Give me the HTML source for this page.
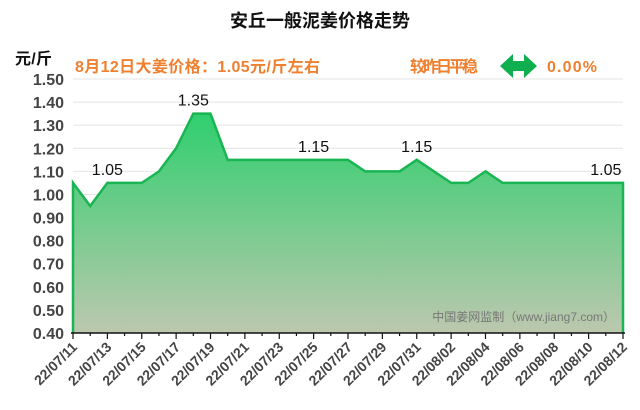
<!DOCTYPE html>
<html><head><meta charset="utf-8"><style>
body{margin:0;background:#fff;width:640px;height:410px;overflow:hidden}
svg{display:block;font-family:"Liberation Sans","Noto Sans CJK SC",sans-serif}
</style></head><body>
<svg id="chart" width="640" height="410">
<defs><linearGradient id="g" x1="0" y1="0" x2="0" y2="1">
<stop offset="0" stop-color="#2fcf6e"/><stop offset="1" stop-color="#bcc8ae"/></linearGradient></defs>
<text x="320" y="27" text-anchor="middle" font-size="18" font-weight="bold" fill="#111">安丘一般泥姜价格走势</text>
<text x="15" y="64" font-size="16" font-weight="bold" fill="#111" textLength="37">元/斤</text>
<text x="75" y="72" font-size="16" font-weight="bold" fill="#ee8030" textLength="245">8月12日大姜价格：1.05元/斤左右</text>
<text x="410" y="72" font-size="16" font-weight="bold" fill="#ee8030" textLength="68">较昨日平稳</text>
<g><polygon points="500,66 513,54 513,61 524,61 524,54 537,66 524,78 524,71 513,71 513,78" fill="#0fae4e"/></g>
<text x="547" y="72" font-size="16" font-weight="bold" fill="#ee8030" textLength="50">0.00%</text>
<g id="grid"></g><g id="plot"></g><g id="axes"></g>
<text x="615" y="321" text-anchor="end" font-size="12" fill="#777">中国姜网监制（www.jiang7.com）</text>
</svg>
<script>
const dates=["22/07/11","22/07/12","22/07/13","22/07/14","22/07/15","22/07/16","22/07/17","22/07/18","22/07/19","22/07/20","22/07/21","22/07/22","22/07/23","22/07/24","22/07/25","22/07/26","22/07/27","22/07/28","22/07/29","22/07/30","22/07/31","22/08/01","22/08/02","22/08/03","22/08/04","22/08/05","22/08/06","22/08/07","22/08/08","22/08/09","22/08/10","22/08/11","22/08/12"];
const prices=[1.05,0.95,1.05,1.05,1.05,1.10,1.20,1.35,1.35,1.15,1.15,1.15,1.15,1.15,1.15,1.15,1.15,1.10,1.10,1.10,1.15,1.10,1.05,1.05,1.10,1.05,1.05,1.05,1.05,1.05,1.05,1.05,1.05];
const yTicks=[0.4,0.5,0.6,0.7,0.8,0.9,1.0,1.1,1.2,1.3,1.4,1.5];
const labelIdx=[2,7,14,20,31];
const NS="http://www.w3.org/2000/svg";
const X0=73,X1=623,Y0=333,Y1=79,ymin=0.4,ymax=1.5;
const xs=i=>X0+(X1-X0)*i/(dates.length-1);
const ys=v=>Y0-(Y0-Y1)*(v-ymin)/(ymax-ymin);
function mk(t,a,p){const e=document.createElementNS(NS,t);for(const k in a)e.setAttribute(k,a[k]);p.appendChild(e);return e;}
const grid=document.getElementById('grid'),plot=document.getElementById('plot'),axes=document.getElementById('axes');
yTicks.forEach(v=>{
 const l=mk('line',{x1:X0,x2:X1,y1:ys(v),y2:ys(v),stroke:'#e4e4e4','stroke-width':1},grid);
 
 
 const t=mk('text',{x:64,y:ys(v)+6,'text-anchor':'end','font-size':16,'font-weight':'bold',fill:'#444'},axes);
 t.textContent=v.toFixed(2);
 
 
});
let pts=prices.map((v,i)=>xs(i)+','+ys(v)).join(' ');
const area=mk('polygon',{points:X0+','+Y0+' '+pts+' '+X1+','+Y0,fill:'url(#g)'},plot);


const line=mk('polyline',{points:X0+','+Y0+' '+pts+' '+X1+','+Y0,fill:'none',stroke:'#19b552','stroke-width':2.5},plot);


labelIdx.forEach(i=>{
 const t=mk('text',{x:xs(i),y:ys(prices[i])-8,'text-anchor':'middle','font-size':16,fill:'#111'},plot);
 t.textContent=prices[i].toFixed(2);
 
 
});
const ax=mk('line',{x1:X0-2,x2:X1+2,y1:Y0,y2:Y0,stroke:'#111','stroke-width':1.5},axes);


dates.forEach((d,i)=>{
 const major=i%2===0;
 const tk=mk('line',{x1:xs(i),x2:xs(i),y1:Y0,y2:Y0+(major?6:3),stroke:'#111','stroke-width':1.2},axes);
 
 
 if(major){
  const t=mk('text',{x:xs(i)+5,y:Y0+15,'text-anchor':'end','font-size':14,'font-weight':'bold',fill:'#444',transform:'rotate(-45 '+(xs(i)+5)+' '+(Y0+15)+')'},axes);
  t.textContent=d;
  
  
 }
});
</script>
</body></html>
